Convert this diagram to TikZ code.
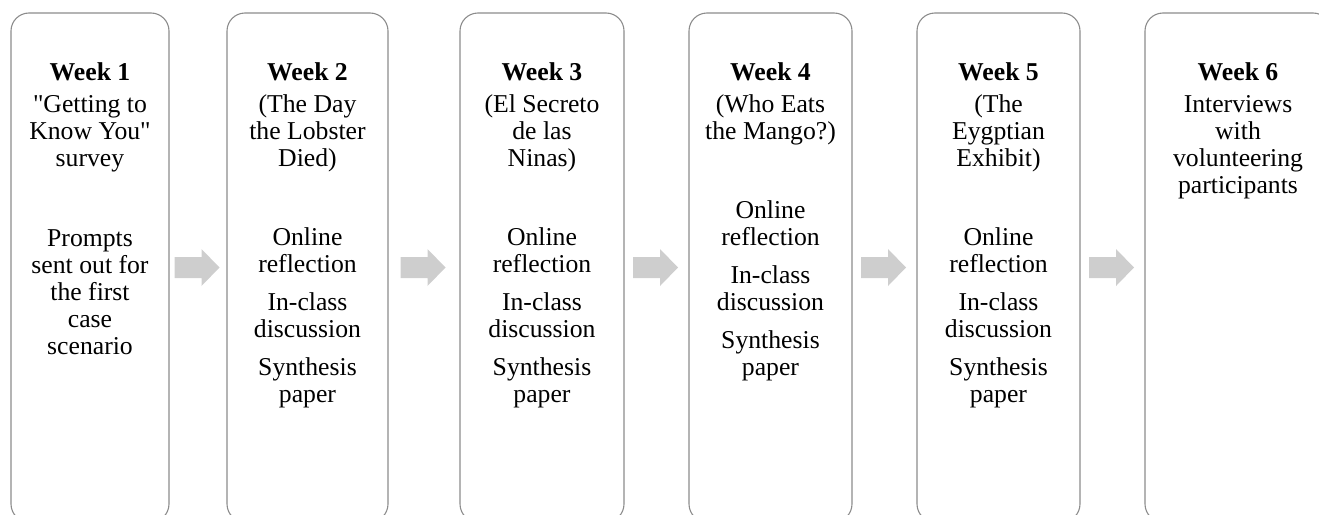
\documentclass[tikz,border=0pt]{standalone}
\usepackage{fontspec}
\setmainfont{Liberation Serif}[Ligatures=TeXOff]
\usetikzlibrary{calc}
\definecolor{framegray}{RGB}{140,140,140}
\definecolor{arrowgray}{RGB}{206,206,206}
\begin{document}
\begin{tikzpicture}[x=1pt,y=1pt,
  week/.style={draw=framegray,line width=1.1pt,rounded corners=18pt,
    minimum height=509pt,inner sep=0pt},
  % multi-line texts are placed by the baseline of their last line
  txt/.style={align=center,inner sep=0pt,anchor=base,
    font=\fontsize{25.7}{27}\selectfont},
  head/.style={txt,font=\fontsize{25.7}{27}\selectfont\bfseries},
  flow/.style={fill=arrowgray}]
\useasboundingbox (0,0) rectangle (1319,-514);
\begin{scope}
\clip (0,0) rectangle (1319,-514);
% one rounded panel per week
\node[week,minimum width=158pt] (b1) at (90,-267.5) {};
\node[week,minimum width=161pt] (b2) at (307.5,-267.5) {};
\node[week,minimum width=164pt] (b3) at (542,-267.5) {};
\node[week,minimum width=163pt] (b4) at (770.5,-267.5) {};
\node[week,minimum width=163pt] (b5) at (998.5,-267.5) {};
\node[week,minimum width=186pt] (b6) at (1238,-267.5) {};
\end{scope}

% block arrows between neighbouring panels
\foreach \a/\b in {b1/b2,b2/b3,b3/b4,b4/b5,b5/b6}{
  \coordinate (m) at ($(\a.east)!0.5!(\b.west)$);
  \fill[flow] ([xshift=-23.5pt,yshift=-10.5pt]m) -- ++(27,0) -- ++(0,-8)
    -- ++(18,18.5) -- ++(-18,18.5) -- ++(0,-8) -- ++(-27,0) -- cycle;
}

% Week 1
\node[head] (h1) at (b1 |- 0,-80) {Week 1};
\node[txt] (s1) at (b1 |- 0,-166) {"Getting to\\Know You"\\survey};
\node[txt] (p1) at (b1 |- 0,-354) {Prompts\\sent out for\\the first\\case\\scenario};

% Week 2
\node[head] (h2) at (b2 |- 0,-80) {Week 2};
\node[txt] (s2) at (b2 |- 0,-166) {(The Day\\the Lobster\\Died)};
\node[txt] (o2) at (b2 |- 0,-272) {Online\\reflection};
\node[txt] (c2) at (b2 |- 0,-337) {In-class\\discussion};
\node[txt] (y2) at (b2 |- 0,-402) {Synthesis\\paper};

% Week 3
\node[head] (h3) at (b3 |- 0,-80) {Week 3};
\node[txt] (s3) at (b3 |- 0,-166) {(El Secreto\\de las\\Ninas)};
\node[txt] (o3) at (b3 |- 0,-272) {Online\\reflection};
\node[txt] (c3) at (b3 |- 0,-337) {In-class\\discussion};
\node[txt] (y3) at (b3 |- 0,-402) {Synthesis\\paper};

% Week 4
\node[head] (h4) at (b4 |- 0,-80) {Week 4};
\node[txt] (s4) at (b4 |- 0,-139) {(Who Eats\\the Mango?)};
\node[txt] (o4) at (b4 |- 0,-245) {Online\\reflection};
\node[txt] (c4) at (b4 |- 0,-310) {In-class\\discussion};
\node[txt] (y4) at (b4 |- 0,-375) {Synthesis\\paper};

% Week 5
\node[head] (h5) at (b5 |- 0,-80) {Week 5};
\node[txt] (s5) at (b5 |- 0,-166) {(The\\Eygptian\\Exhibit)};
\node[txt] (o5) at (b5 |- 0,-272) {Online\\reflection};
\node[txt] (c5) at (b5 |- 0,-337) {In-class\\discussion};
\node[txt] (y5) at (b5 |- 0,-402) {Synthesis\\paper};

% Week 6
\node[head] (h6) at (b6 |- 0,-80) {Week 6};
\node[txt] (s6) at (b6 |- 0,-193) {Interviews\\with\\volunteering\\participants};
\end{tikzpicture}
\end{document}
